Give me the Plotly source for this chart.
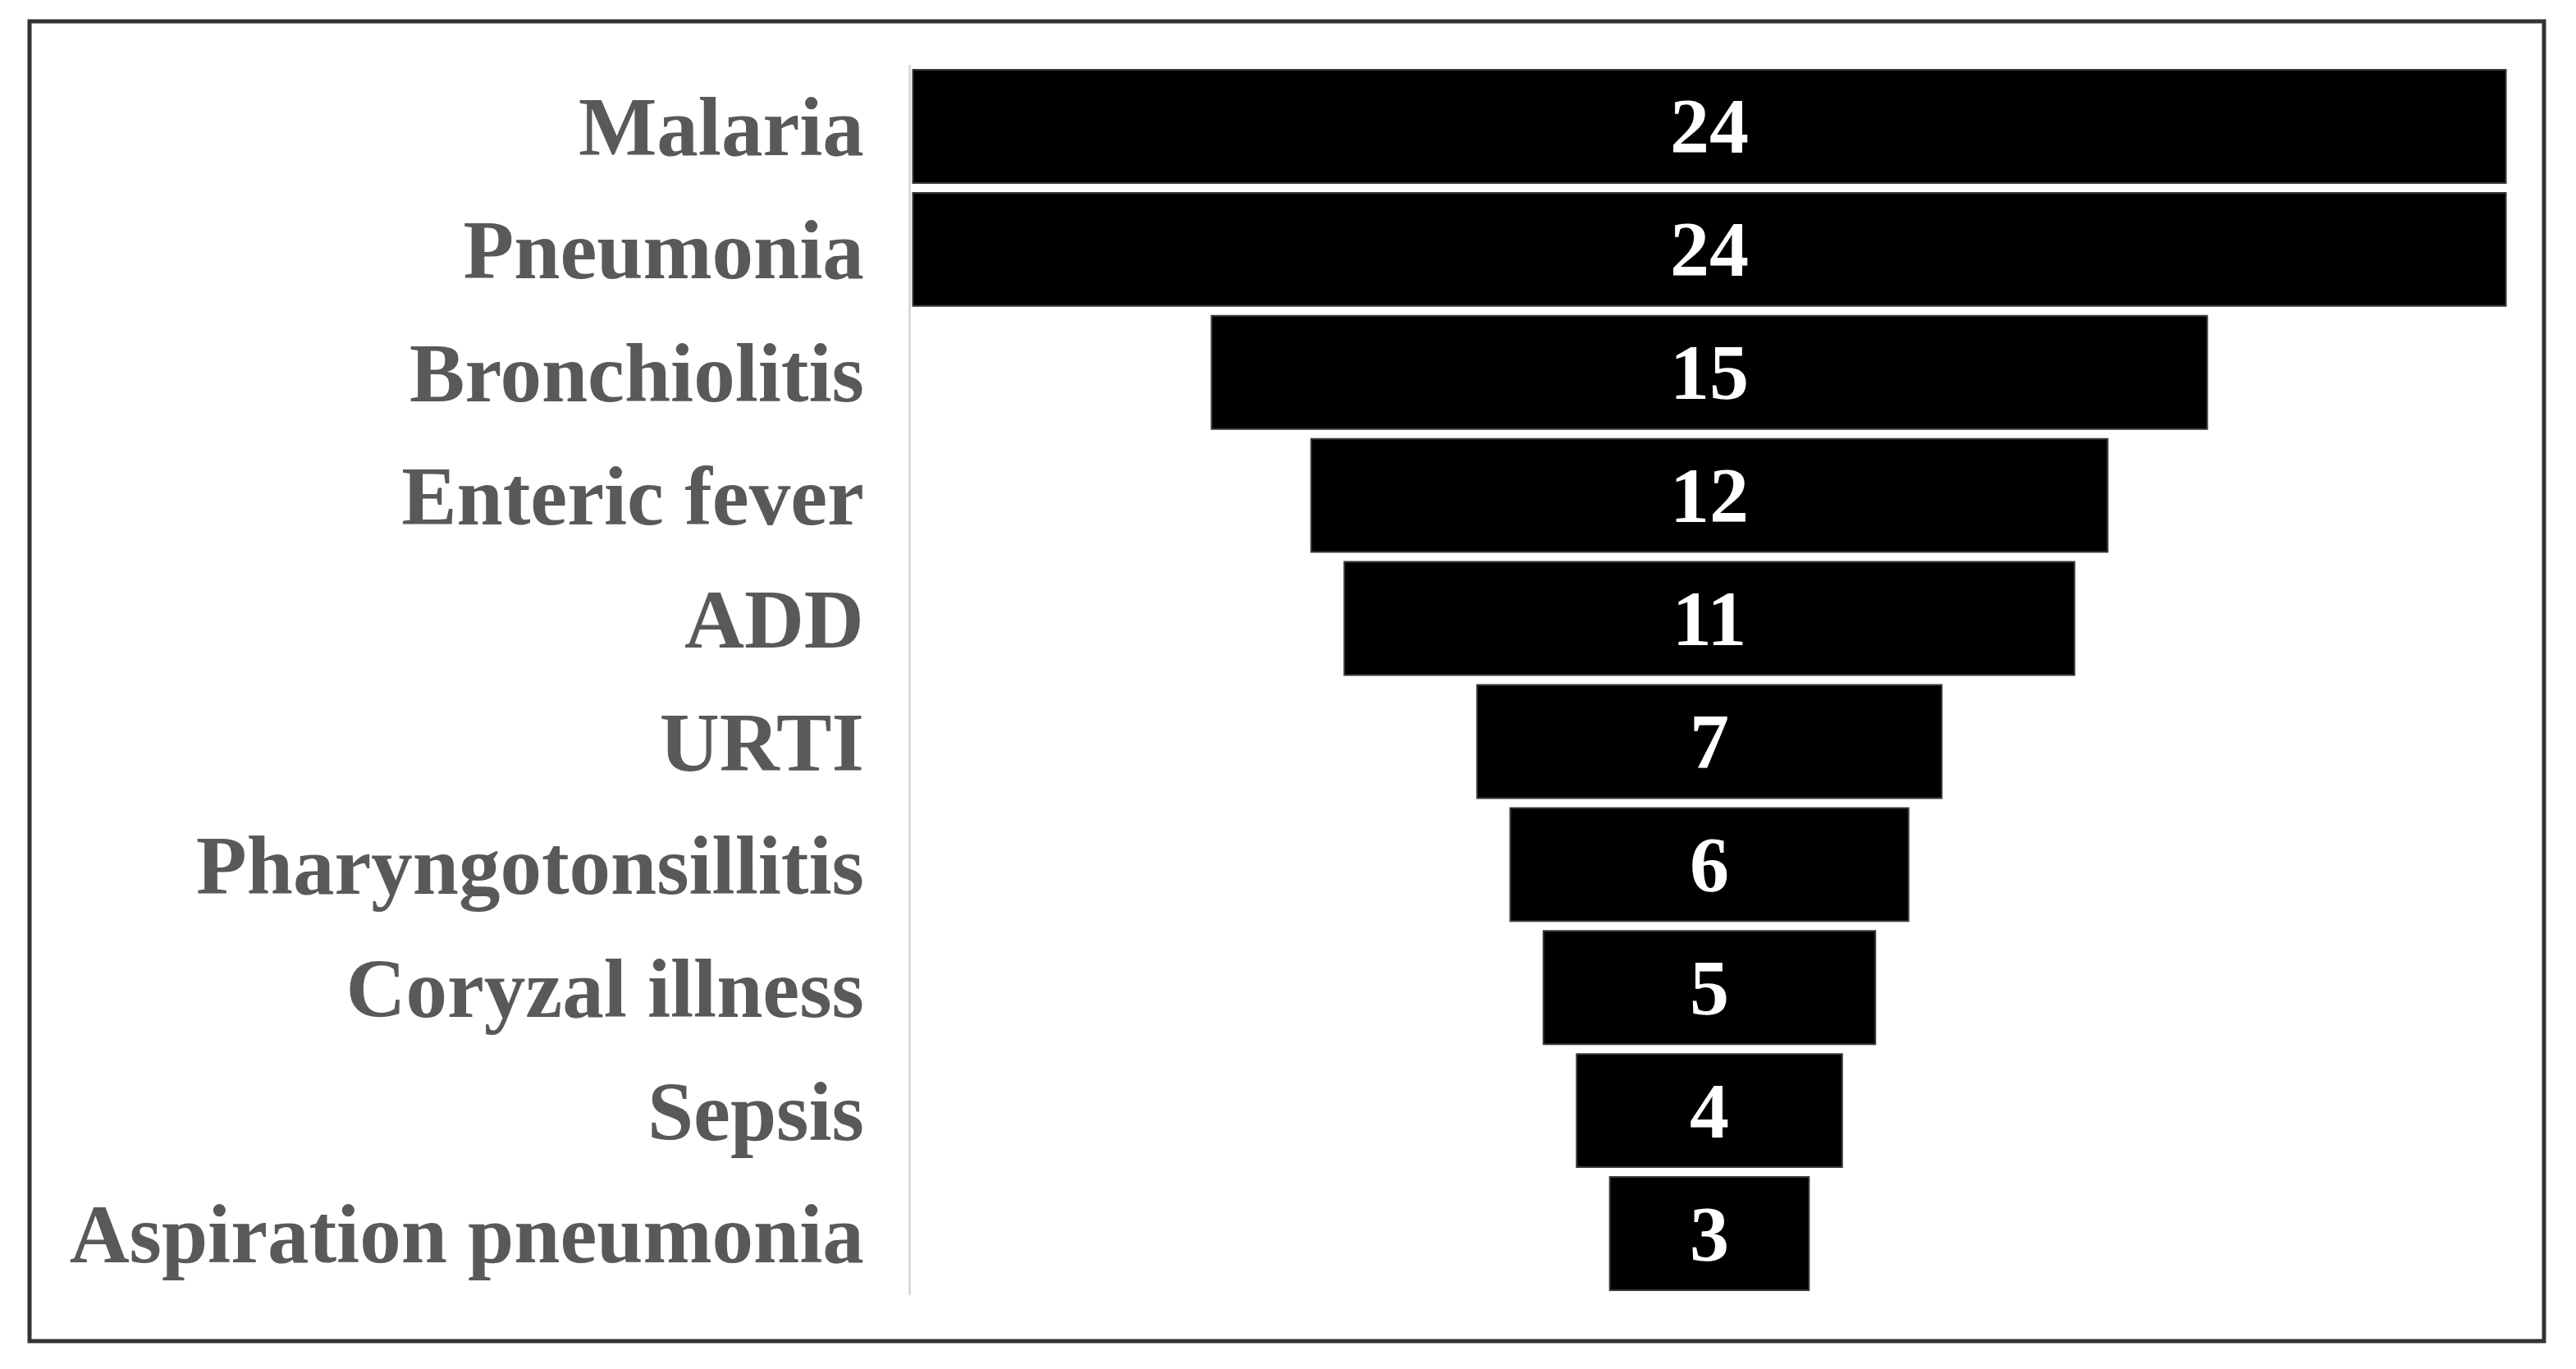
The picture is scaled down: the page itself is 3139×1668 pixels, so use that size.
import plotly.graph_objects as go

categories = ["Malaria", "Pneumonia", "Bronchiolitis", "Enteric fever", "ADD", "URTI",
              "Pharyngotonsillitis", "Coryzal illness", "Sepsis", "Aspiration pneumonia"]
values = [24, 24, 15, 12, 11, 7, 6, 5, 4, 3]

W, H = 3139, 1668
FONT = "Liberation Serif"
ML, MR, MT, MB = 1102, 91, 71, 98
PW, PH = W - ML - MR, H - MT - MB

# frame position in figure pixels
FX0, FX1, FY0, FY1 = 28, 3092, 18, 1626

fig = go.Figure(go.Funnel(
    y=categories,
    x=values,
    textinfo="value",
    textposition="inside",
    constraintext="none",
    insidetextfont=dict(family=FONT, size=96, color="white", weight="bold"),
    marker=dict(color="black", line=dict(width=2, color="#3a3a3a")),
    connector=dict(visible=False),
    hoverinfo="skip",
))

fig.update_layout(
    width=W, height=H,
    margin=dict(l=ML, r=MR, t=MT, b=MB, pad=0),
    paper_bgcolor="white",
    plot_bgcolor="white",
    showlegend=False,
    funnelgap=0.08,
    xaxis=dict(visible=False, range=[-12.03, 12.03], fixedrange=True),
    yaxis=dict(
        showline=True, linecolor="#d9d9d9", linewidth=3,
        showgrid=False, ticks="", ticklabelstandoff=34,
        tickfont=dict(family=FONT, size=101, color="#595959", weight="bold"),
        autorange="reversed",
    ),
    shapes=[dict(type="rect", xref="paper", yref="paper",
                 x0=(FX0 - ML) / PW,
                 x1=(FX1 - ML) / PW,
                 y0=((H - MB) - FY1) / PH,
                 y1=((H - MB) - FY0) / PH,
                 line=dict(color="#333333", width=5), layer="below")],
)

fig.write_html("out.html")
